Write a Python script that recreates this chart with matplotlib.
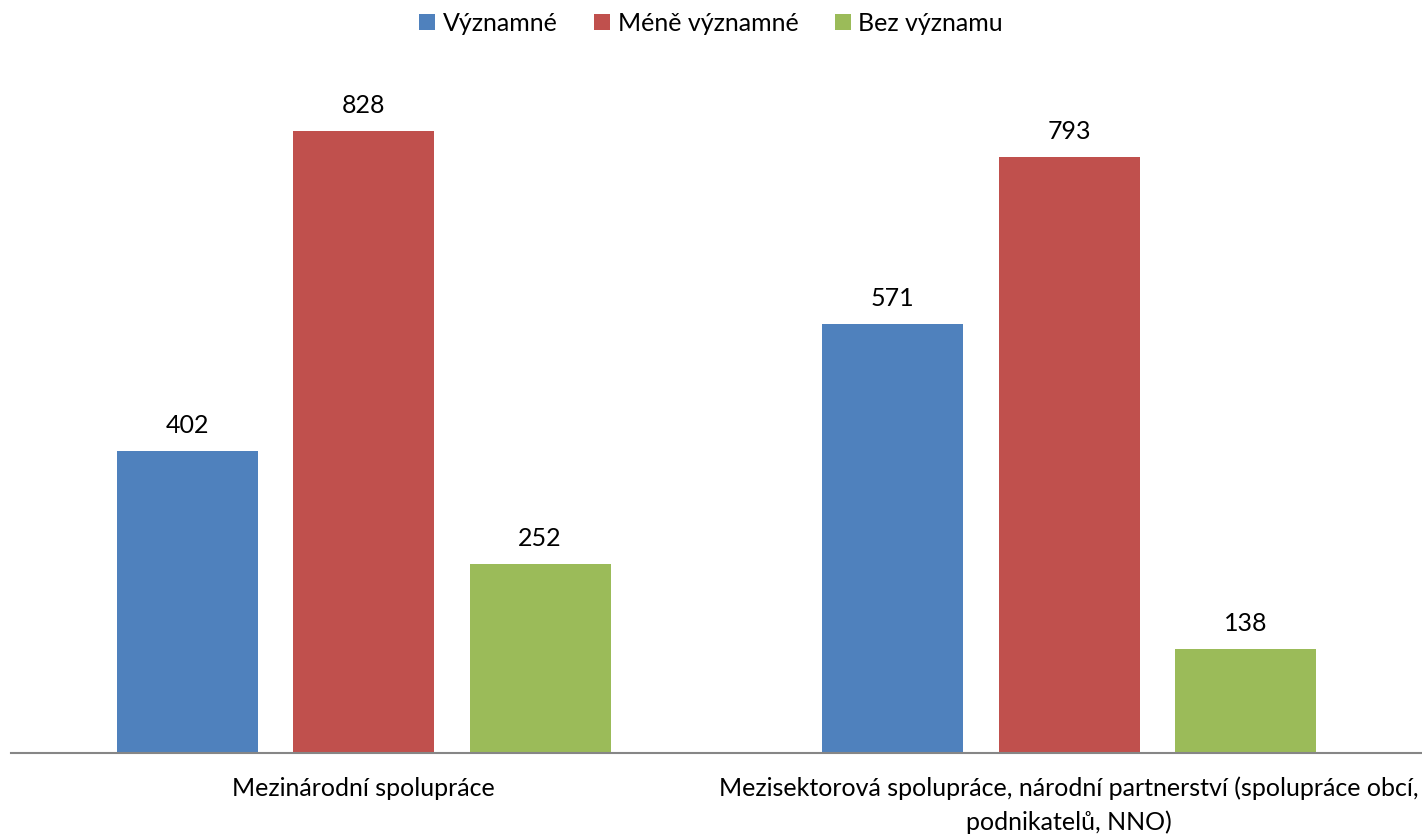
import matplotlib
matplotlib.use('Agg')
import matplotlib.pyplot as plt
import numpy as np

plt.rcParams['font.family'] = ['Lato', 'DejaVu Sans']

# data
kategorie = ['Mezinárodní spolupráce',
             'Mezisektorová spolupráce, národní partnerství (spolupráce obcí,\npodnikatelů, NNO)']
serie = ['Významné', 'Méně významné', 'Bez významu']
vyznamne = [402, 571]
mene_vyznamne = [828, 793]
bez_vyznamu = [252, 138]
barvy = ['#4F81BD', '#C0504D', '#9BBB59']

fig = plt.figure(figsize=(14.22, 8.35), dpi=100)
ax = fig.add_axes([11 / 1422, 82 / 835, 1411 / 1422, 676 / 835])

x = np.arange(len(kategorie))
sirka = 0.2
for i, (hodnoty, nazev) in enumerate(zip([vyznamne, mene_vyznamne, bez_vyznamu], serie)):
    sloupce = ax.bar(x + (i - 1) * 0.25, hodnoty, sirka, color=barvy[i], label=nazev)
    for s in sloupce:
        ax.annotate(str(int(s.get_height())), (s.get_x() + s.get_width() / 2, s.get_height()),
                    xytext=(0, 10), textcoords='offset points', ha='center', va='bottom',
                    fontsize=18)

ax.set_xlim(-0.5, 1.5)
ax.set_ylim(0, 900)
ax.set_yticks([])
ax.set_xticks(x)
ax.set_xticklabels(kategorie, fontsize=18, linespacing=1.5)
ax.tick_params(axis='x', length=0, pad=17)
for strana in ['top', 'right', 'left']:
    ax.spines[strana].set_visible(False)
ax.spines['bottom'].set_color('#868686')
ax.spines['bottom'].set_linewidth(1.5)

fig.legend(loc='upper center', bbox_to_anchor=(0.5, 1.013), ncol=3, frameon=False,
           fontsize=18, handlelength=0.65, handleheight=0.65, handletextpad=0.3,
           columnspacing=1.45)

fig.savefig('out.png', dpi=100)
